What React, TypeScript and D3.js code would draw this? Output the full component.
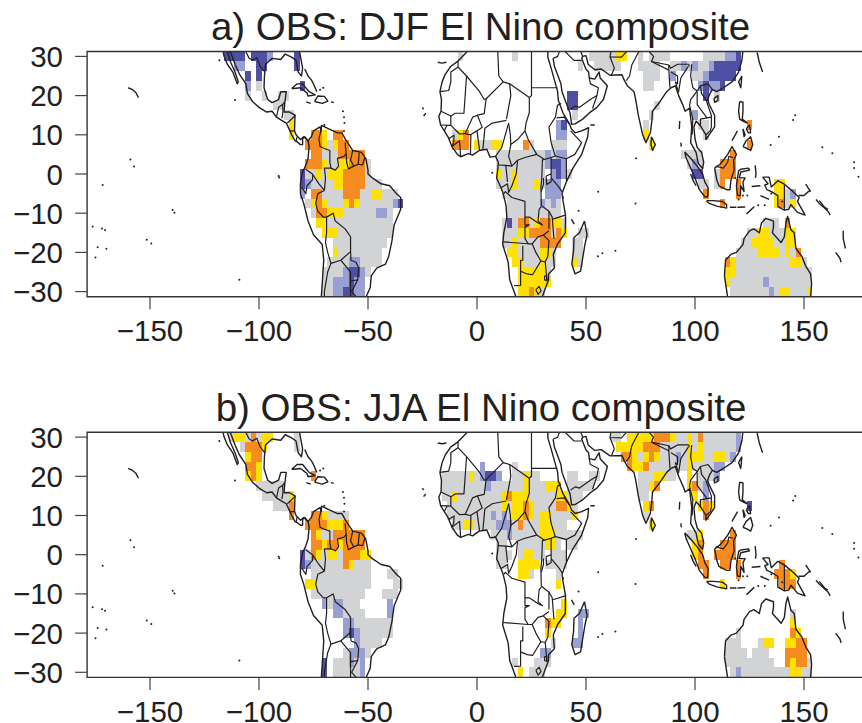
import React from "react";
import * as d3 from "d3";

type Runs = Record<string, string>;

const xTicks = [-150, -100, -50, 0, 50, 100, 150];
const yTicks = [30, 20, 10, 0, -10, -20, -30];
const titles = ["a) OBS: DJF El Nino composite", "b) OBS: JJA El Nino composite"];

const palette: Record<string, string> = { g: "#d1d3d4", y: "#ffe100", o: "#f68b1f", l: "#989fd2", d: "#4f4fa3" };

const djfAmericas: Runs = {
  "30": "-115 d4, -102.5 d3, -95 l1, -82.5 d1",
  "27.5": "-110 l2, -100 d2, -82.5 d1",
  "25": "-105 d1, -100 d1",
  "22.5": "-105 l1, -100 g1, -80 d1",
  "20": "-105 g1, -97.5 g1, -90 g2",
  "17.5": "-92.5 g2",
  "15": "-87.5 g2",
  "12.5": "-85 y1",
  "10": "-85 y1, -75 o2, -70 y1, -65 o2",
  "7.5": "-77.5 o3, -70 y1, -67.5 g1, -65 y1, -62.5 o2",
  "5": "-75 o2, -70 g3, -62.5 o5",
  "2.5": "-77.5 o3, -70 y1, -67.5 g2, -62.5 y2, -57.5 o3, -50 g1",
  "0": "-80 d1, -77.5 g2, -72.5 y1, -70 g1, -67.5 y3, -60 o4, -50 g1",
  "-2.5": "-80 d1, -77.5 l1, -75 g4, -65 y2, -60 o4, -50 g3",
  "-5": "-80 l1, -75 o2, -70 g4, -60 o3, -52.5 g2, -47.5 y2, -42.5 g3",
  "-7.5": "-77.5 g1, -75 y1, -72.5 o1, -70 y1, -67.5 g3, -60 y1, -57.5 o1, -55 y1, -52.5 g6, -37.5 l1, -35 d1",
  "-10": "-75 g1, -72.5 o2, -67.5 y3, -60 g6, -45 l2, -40 g1",
  "-12.5": "-72.5 y2, -67.5 g12",
  "-15": "-70 y3, -62.5 g10",
  "-17.5": "-65 g10",
  "-20": "-65 y1, -62.5 g8",
  "-22.5": "-67.5 g4, -57.5 l2, -52.5 g4",
  "-25": "-70 g4, -60 l1, -57.5 d2, -52.5 l1, -50 g1",
  "-27.5": "-70 g2, -65 l3, -57.5 d1, -55 l2",
  "-30": "-70 g2, -65 l2, -60 d2, -55 l2",
};

const djfAfrica: Runs = {
  "30": "-7.5 g1, 17.5 g1",
  "27.5": "47.5 g1",
  "20": "42.5 d2",
  "17.5": "42.5 d2",
  "15": "45 g1",
  "12.5": "37.5 l1, 40 d1",
  "10": "-10 g1, -7.5 y1, -5 o1, 37.5 l2",
  "7.5": "-10 o3, 0 y1, 2.5 g2, 7.5 y2, 22.5 o1, 25 g1, 35 g3",
  "5": "10 g9, 32.5 l1, 35 g1, 37.5 l2",
  "2.5": "10 g9, 32.5 l1, 35 d2, 40 l1",
  "0": "10 y1, 12.5 g2, 17.5 y1, 20 g5, 35 l1, 37.5 d1, 40 l1, 42.5 g1",
  "-2.5": "10 g3, 17.5 y1, 20 g3, 27.5 y1, 30 g1, 32.5 l3",
  "-5": "12.5 g7, 32.5 l3",
  "-7.5": "15 g6, 30 l1, 32.5 g1, 35 l1, 37.5 g1",
  "-10": "15 g10",
  "-12.5": "12.5 g1, 15 d1, 17.5 g1, 20 o2, 25 g1, 27.5 y1, 30 o2, 35 y2, 40 g1",
  "-15": "12.5 g3, 20 y2, 25 o4, 35 g1, 37.5 o1, 40 y1, 47.5 g2",
  "-17.5": "12.5 g2, 17.5 y1, 20 g4, 30 o4, 45 g2",
  "-20": "15 y2, 20 g4, 30 y2, 35 g1, 45 g2",
  "-22.5": "17.5 y2, 22.5 g3, 30 y1, 32.5 g2, 45 y1, 47.5 g1",
  "-25": "20 y5, 32.5 g1",
  "-27.5": "20 y6",
  "-30": "20 y2, 25 o1, 27.5 y1, 30 g1",
};

const djfAsia: Runs = {
  "30": "52.5 g5, 65 y2, 75 g1, 80 g4, 105 g4, 115 l2, 120 d1",
  "27.5": "55 g5, 75 g4, 90 g2, 95 l1, 97.5 g1, 100 l1, 102.5 g2, 107.5 l1, 110 d5",
  "25": "77.5 g3, 90 l1, 100 g2, 105 l1, 107.5 d5",
  "22.5": "77.5 g2, 102.5 l1, 105 d1, 107.5 l2, 112.5 d1",
  "20": "105 d1, 110 g1",
  "17.5": "82.5 g1",
  "15": "80 g1, 100 l1",
  "12.5": "77.5 g1, 102.5 g2, 125 o1",
  "10": "77.5 y1, 105 g1",
  "7.5": "80 y1, 125 o1",
  "5": "95 g4, 117.5 o1",
  "2.5": "97.5 g1, 100 l1, 102.5 g1, 112.5 o3",
  "0": "100 d2, 110 g1, 112.5 o3",
  "-2.5": "102.5 g2, 110 g1, 112.5 o1, 120 o1, 137.5 y2",
  "-5": "105 o1, 120 o1, 137.5 y2, 142.5 g1, 145 l1",
  "-7.5": "112.5 o1, 137.5 y1, 140 o1, 142.5 g1, 145 y1",
  "-12.5": "132.5 g3, 142.5 o1",
  "-15": "125 g2, 130 y2, 135 g3, 142.5 y2",
  "-17.5": "122.5 g2, 127.5 y4, 137.5 g2, 142.5 y2",
  "-20": "120 g4, 130 y4, 140 g1, 142.5 y1, 145 g1, 147.5 o1",
  "-22.5": "115 o1, 117.5 y1, 120 g10, 145 y2, 150 g1",
  "-25": "115 y2, 120 g14",
  "-27.5": "115 y1, 117.5 g6, 132.5 l1, 135 g8",
  "-30": "117.5 g7, 135 l1, 137.5 g1, 140 y2, 145 g3, 152.5 y1",
};

const jjaAmericas: Runs = {
  "30": "-112.5 g1, -110 y2, -105 g1, -102.5 o1, -100 g1, -97.5 y2, -82.5 g1",
  "27.5": "-107.5 g1, -105 o3, -97.5 y1, -82.5 g1",
  "25": "-105 y1, -102.5 o2",
  "22.5": "-105 o2, -100 y1",
  "20": "-105 y1, -102.5 o1, -100 y1, -75 o1",
  "17.5": "-100 g5",
  "15": "-97.5 g5, -85 y1",
  "12.5": "-92.5 g3, -85 o1",
  "10": "-85 o1, -75 o2, -70 y1, -67.5 g4",
  "7.5": "-77.5 o3, -70 o1, -67.5 y3, -60 o1",
  "5": "-75 o1, -72.5 y1, -70 g2, -65 o6",
  "2.5": "-75 o2, -70 y1, -67.5 o2, -62.5 y1, -60 o4",
  "0": "-80 d1, -77.5 g1, -75 o1, -72.5 y1, -70 g1, -67.5 y2, -62.5 g1, -60 o3, -52.5 y2",
  "-2.5": "-80 d1, -77.5 l1, -75 g6, -60 o1, -57.5 y1, -55 g3",
  "-5": "-75 g11, -40 g2",
  "-7.5": "-77.5 y2, -72.5 g10, -37.5 g2",
  "-10": "-75 g10, -42.5 g3",
  "-12.5": "-70 l1, -67.5 g1, -65 l2, -60 g3, -40 l1",
  "-15": "-65 l2, -60 g4, -40 l1",
  "-17.5": "-60 l2, -55 g7",
  "-20": "-60 l1, -57.5 d1, -55 l1, -52.5 g6",
  "-22.5": "-55 l1, -52.5 g4",
  "-25": "-60 g1, -57.5 l3, -50 g1",
  "-27.5": "-70 d1, -65 g3, -57.5 l1, -55 g1, -52.5 l1",
  "-30": "-70 d1, -65 g5, -52.5 l1",
};

const jjaAfrica: Runs = {
  "22.5": "2.5 l1, 17.5 g1",
  "20": "-15 g5, -2.5 y1, 0 g1, 2.5 l1, 5 d2, 10 l1, 17.5 g2, 22.5 y1, 25 g2, 42.5 g2, 52.5 g2",
  "17.5": "-15 g8, 5 l1, 7.5 g6, 22.5 y1, 25 g3, 32.5 y3, 42.5 g2, 47.5 g3",
  "15": "-15 g2, -10 y1, -7.5 g8, 12.5 y1, 15 o1, 17.5 y3, 25 g5, 37.5 y2, 42.5 g3",
  "12.5": "-12.5 g10, 12.5 y1, 15 g1, 17.5 y2, 22.5 o1, 25 y1, 27.5 g4, 37.5 o2, 42.5 y1, 45 g1",
  "10": "-12.5 g8, 7.5 l1, 10 g1, 12.5 l1, 15 g1, 17.5 y2, 22.5 o1, 25 y1, 27.5 g1, 30 y2, 35 g4, 45 y1",
  "7.5": "-10 g3, -5 y2, 0 g4, 10 l3, 17.5 g1, 20 o1, 22.5 g3, 30 y2, 35 g3",
  "5": "7.5 g3, 15 l1, 17.5 g5, 30 y3, 37.5 g2, 42.5 g3",
  "2.5": "10 g2, 20 g5, 32.5 y2, 37.5 g1, 42.5 g2",
  "0": "10 g3, 20 g1, 22.5 y2, 27.5 g2, 35 g3",
  "-2.5": "10 g2, 20 y4, 32.5 g4",
  "-5": "20 y2, 25 g1, 37.5 g1",
  "-7.5": "37.5 y1",
  "-12.5": "40 y1",
  "-15": "37.5 y2, 47.5 l2",
  "-17.5": "32.5 o1, 35 y2, 47.5 l1",
  "-20": "32.5 y1, 47.5 l1",
  "-22.5": "35 g1, 45 l2",
  "-25": "30 l2",
  "-27.5": "17.5 g1, 27.5 g3",
  "-30": "20 y1, 25 g3",
};

const jjaAsia: Runs = {
  "30": "62.5 g2, 70 y5, 82.5 o3, 90 y1, 92.5 g2, 97.5 y1, 100 g1, 102.5 o1, 105 g6, 120 l1",
  "27.5": "65 y5, 77.5 o3, 85 g5, 97.5 y1, 100 g1, 102.5 y1, 105 g6, 120 l1",
  "25": "67.5 o2, 72.5 y1, 75 g1, 77.5 y1, 80 o1, 82.5 y1, 85 g3, 92.5 l1, 95 g1, 97.5 y3, 105 g2, 110 y2, 115 g1, 117.5 l1",
  "22.5": "70 o1, 72.5 y2, 77.5 o1, 80 g7, 97.5 y1, 100 g4, 110 l2",
  "20": "75 g3, 82.5 y2, 87.5 g2, 97.5 y1, 102.5 g3, 110 l1",
  "17.5": "75 g2, 80 y1, 82.5 o1, 97.5 y1, 100 o1, 102.5 g1, 105 l1",
  "15": "75 g2, 100 y1, 105 l1",
  "12.5": "77.5 y1, 80 o1, 102.5 y1, 105 o1, 107.5 y1, 125 d1",
  "10": "77.5 g1, 105 o1",
  "7.5": "80 y1",
  "5": "97.5 g2, 102.5 y1, 117.5 o1",
  "2.5": "100 y1, 102.5 o1, 112.5 o3",
  "0": "100 y1, 102.5 o1, 110 o4",
  "-2.5": "102.5 o2, 112.5 o2, 120 o1, 140 o1",
  "-5": "105 o1, 120 o1, 137.5 o3, 145 y1",
  "-7.5": "112.5 y1, 140 o3",
  "-15": "145 g1",
  "-17.5": "145 y1",
  "-20": "120 g1, 145 o1, 147.5 y1",
  "-22.5": "115 g3, 130 g1, 132.5 y2, 142.5 y2, 147.5 o2",
  "-25": "115 g4, 127.5 g3, 142.5 o4",
  "-27.5": "115 g9, 142.5 o1, 145 y1, 147.5 o2, 152.5 g1",
  "-30": "117.5 g1, 120 l1, 122.5 g9, 145 y2, 150 g2",
};

type Line = [number, number][];

const coastAmericas: Line[] = [
  [[-117,32.5],[-116,30],[-114.5,28],[-112,26],[-110,23],[-109.5,23.5],[-111,26],[-113,28.5],[-114.7,31.5]],
  [[-114.7,31.5],[-113,31],[-111,28],[-109,25.5],[-106,23],[-105.3,20.5],[-103,18.5],[-100,17],[-96.5,15.8],[-94,16],[-92,14.5],[-90,13.8],[-87.5,13],[-85.8,11],[-85,10],[-83.5,8.5],[-82.5,8.2],[-81,7.5],[-80,7.5],[-80,9],[-79,9.5],[-77.5,8.5],[-79.5,9.5],[-81,8.8],[-83,10],[-83.7,11],[-83.5,15],[-86,15.8],[-88.5,15.8],[-88.2,18],[-87.5,21],[-90,21],[-91,19],[-94,18.2],[-96,19],[-97.7,22],[-97.5,25],[-97,28],[-94,29.5],[-90,29.2],[-88,30.6],[-85,29.8],[-83,29],[-82,26],[-80.5,25],[-80,27],[-81.5,31.5]],
  [[-77.5,8.5],[-77,7],[-77.5,4],[-78.7,2],[-80,0.5],[-81,-2.5],[-81,-5],[-79.5,-7.5],[-77.5,-12],[-75,-15.5],[-71,-18],[-70.3,-22],[-71,-28],[-71.5,-32]],
  [[-77.5,8.5],[-76,9.5],[-75,11],[-72,12],[-71.5,11],[-71.3,12.4],[-68,11.5],[-64,10.5],[-62,10.5],[-60,8.5],[-57,6],[-53,5.5],[-51,4],[-50,1],[-50,0],[-48,-1],[-44,-2.5],[-40,-3],[-37,-5],[-35,-6],[-35,-9],[-38,-13],[-39,-17],[-40.5,-21],[-42,-23],[-46,-24],[-48.5,-26],[-49,-29],[-51,-31.5]],
  [[-85,21.8],[-82.5,23],[-80,23],[-77,21],[-74.2,20.2],[-77.5,19.9],[-78,20.7],[-81,22],[-84,21.8],[-85,21.8]],
  [[-74.5,18.5],[-73,19.9],[-70,19.8],[-68.4,18.6],[-71,18],[-74.5,18.5]],
  [[-78.3,18.4],[-76.3,18]],
  [[-67,18.4],[-65.7,18.2]],
  [[-160,22],[-158,21.5],[-156.5,20.8],[-155.3,19.5]],
  [[-79,26.8],[-77.5,25],[-76,24],[-75,23],[-73.5,21]],
];

const borderAmericas: Line[] = [
  [[-106.5,31.7],[-104.5,29.5],[-103,29],[-101,29.7],[-99.5,27.5],[-97.2,25.9]],
  [[-92,14.5],[-91,17],[-89,17.8],[-88.3,18.4]],
  [[-89.2,17.8],[-89,15.9],[-89.5,14.2]],
  [[-83.2,15],[-87,13]],
  [[-83.7,11],[-85.7,11]],
  [[-82.6,9.5],[-83,8.2]],
  [[-71.3,11.8],[-72.5,9],[-72,7],[-70,6.5],[-67.5,6],[-67.5,3],[-67,1.5]],
  [[-67,1.5],[-65,1],[-63.5,2],[-64,4],[-61,4.5],[-60,5.2]],
  [[-60,5.2],[-60.5,8]],
  [[-60,5.2],[-59.8,3],[-59,1.3],[-56.5,2]],
  [[-57,6],[-58,3.5],[-56.5,2]],
  [[-54,5.5],[-54.5,2.5]],
  [[-56.5,2],[-54.5,2.5],[-52.5,2.3],[-51.5,4.2]],
  [[-67,1.5],[-70,1.5],[-69.5,-1],[-70,-4.2]],
  [[-70,-4.2],[-72.5,-2.5],[-75.5,0],[-78.7,1.3]],
  [[-75.3,-0.2],[-75.5,-1.5],[-78,-3],[-78.5,-5],[-80.3,-3.5]],
  [[-70,-4.2],[-73,-5],[-74,-7.5],[-73,-9.5],[-70.5,-11],[-69,-11],[-69,-15],[-69.5,-17.5],[-68.5,-20],[-67,-22.8]],
  [[-69,-11],[-66,-10],[-65,-12],[-60.5,-14],[-58,-16],[-58,-19.8],[-62.5,-22],[-67,-22.8],[-68.5,-25],[-70,-30],[-70,-32]],
  [[-62.5,-22],[-58,-25],[-58,-27.3],[-54.7,-27]],
  [[-58,-19.8],[-57.8,-22],[-55.5,-22.5],[-54.3,-24],[-54.7,-27],[-57.5,-30],[-53.5,-32.5]],
  [[-58,-27.3],[-58,-32]],
];

const coastAfricaAsia: Line[] = [
  [[-4,31.5],[-8.7,28.8],[-12,27.5],[-14.5,25.5],[-16,23.5],[-17,21],[-16.3,19],[-16.5,16],[-17.5,14.7],[-16.7,12.5],[-15,11],[-13.3,9.5],[-11.5,7],[-9,5],[-7.5,4.4],[-4,5.2],[-2,4.8],[1,6],[4.5,6.3],[6,4.3],[8.5,4.5],[9.8,3],[9.5,1],[9,-1],[11,-3.5],[12,-5],[13.3,-8],[13.7,-11],[12.3,-15],[11.8,-18],[14.3,-22.5],[15,-27],[17,-30],[18.3,-32]],
  [[29.5,-32],[32.8,-27],[32.8,-25.5],[35.5,-24],[35,-20.5],[37,-17.8],[40.5,-15],[40.6,-10.5],[39.5,-7],[39,-5],[41,-2],[44,1.5],[48,5],[50.8,9.5],[51.2,11.8],[48,11],[45,10.5],[43.3,11.5],[42.5,12.7],[39.5,15.5],[37.3,18.8],[37,21],[35.5,24],[34,27],[32.5,29.8],[32.5,31.5]],
  [[34.9,29.5],[35.5,27.5],[38.5,23],[39,21],[41,18],[42.7,15.5],[43.4,12.7],[45,12.8],[48.5,14],[52,15.8],[55,17],[58,19],[59.8,22.5],[56.5,24.5],[56,26],[54,24.2],[51.5,24.5],[51.2,26],[50,26.7],[48,29.5],[48.5,30],[50,30.2],[51,28],[54,26.6],[57,26.8],[61,25.2],[66.5,25.3],[67.5,24],[69,22.5],[72,21],[72.8,19],[74,15],[76,10],[77.5,8],[79.5,10.5],[80.2,13.5],[80.5,16],[84,18.5],[87,21],[89,22],[91,22.5],[92.5,20],[94.5,17.5],[95.5,16],[97.5,16.8],[98.5,12],[98,8],[100.5,5.5],[101.5,2.7],[103.5,1.4],[104,3],[103,5.5],[101,6.8],[100,9],[99.5,12],[100.5,13.5],[102.5,12.3],[105,10],[105,8.8],[106.5,10],[109,12],[109,15],[106.5,17.8],[105.8,19],[106.8,20.5],[108,21.5],[110,21],[113,22],[117,23.5],[120,26],[121.5,29],[122,31.5]],
  [[80,9.5],[81.8,7.5],[80.5,6],[79.8,7.5],[80,9.5]],
  [[49.3,-12],[50.5,-15.5],[49.5,-18],[47.5,-24.8],[45,-25.5],[43.5,-23],[44.3,-19.5],[44.5,-16.2],[47,-15],[49.3,-12]],
  [[95.3,5.6],[98,4],[101,2],[103.5,0],[104.5,-2],[106,-3.5],[105.8,-5.8],[104.5,-5.8],[102,-4],[100,-1],[98,1.5],[96,4],[95.3,5.6]],
  [[109,1.5],[111.5,2.5],[113,3.5],[115,5],[117,7],[119,5],[117.7,3.5],[118,1],[116.5,-1.5],[116,-4],[114.5,-4],[111,-3],[110,-1.5],[109,1.5]],
  [[105.3,-6.8],[108.5,-6.8],[112.5,-7],[114.5,-7.8],[114.5,-8.7],[110,-8.2],[106.5,-7.5],[105.3,-6.8]],
  [[119.5,-5.5],[119,-3],[120,0.8],[121,1.2],[124.5,1.5],[125,1],[121,0.5],[120.3,-1],[123,-1],[122,-2],[122.5,-4.5],[121,-3],[120.8,-5.5],[119.5,-5.5]],
  [[120.5,18.5],[122,18.3],[122,16],[121.7,14],[124,13],[122,13.5],[120.5,14],[120,16],[120.5,18.5]],
  [[122,7],[123.5,8.5],[125.5,9.5],[126.5,7.5],[125.5,6],[124,6.5],[122,7]],
  [[117,8.5],[119.5,11]],
  [[122,11.5],[123,10],[122.5,9.5],[122,11.5]],
  [[123.5,11.5],[125,12.5],[125.5,10.5],[124.5,10.5],[123.5,11.5]],
  [[131,-0.8],[134,-0.8],[135,-3.3],[138,-1.7],[141,-2.6],[145,-4.5],[147.8,-6],[147,-7],[150.5,-10.5],[147,-9.8],[144,-7.8],[143,-9],[141,-9.2],[138,-8.3],[138,-5.5],[135,-4.5],[133,-4],[132,-2.8],[133.5,-2.5],[131,-0.8]],
  [[113.5,-26],[114,-22],[116.5,-20.5],[119,-20],[122,-18],[122.5,-16.5],[125,-14.5],[127,-14],[129.5,-15],[130.5,-12.5],[132.5,-11.3],[136,-12],[136,-13.5],[135.5,-15],[139.5,-17.5],[141,-16],[141.7,-12.5],[142.5,-10.8],[144,-14.2],[145.5,-15],[146.3,-19],[149,-21],[150.8,-23.5],[153,-25.5],[153.5,-28],[153,-31.5]],
  [[113.5,-26],[115,-31.5]],
  [[123.6,-10.2],[127,-8.4],[125,-9.5],[123.6,-10.2]],
  [[116,-8.5],[119,-8.5]],
  [[119.5,-8.5],[123,-8.4]],
  [[121.5,25],[121,22],[120,23.5],[121.5,25]],
  [[108.7,19.3],[110.5,20],[110.5,18.7],[109,18.3],[108.7,19.3]],
  [[93,13.5],[92.8,11.5]],
  [[93.5,8],[93.7,7]],
  [[98,0],[99,-1.5],[100.5,-3]],
  [[127.6,2.2],[128,0],[127.7,-1]],
  [[126,-3.2],[130,-3]],
  [[130,-5.5],[134,-6.5]],
  [[128.5,31],[129.5,28.5],[131,26]],
  [[147.5,-5.5],[150,-5.5],[152,-4.5],[153,-4.2]],
  [[150.8,-2.6],[153,-4.5]],
  [[155.5,-6.5],[157,-7.5],[159,-8.5],[161,-9.5],[162,-10.5]],
  [[157,-6.8],[159.5,-8.5],[161,-9]],
  [[168,-14.5],[168,-16.5],[169,-19]],
  [[164.5,-20],[166.5,-21.5],[167,-22.5]],
  [[-25,17],[-24.5,16.5]],
  [[-23.5,15.5],[-24.5,14.8]],
  [[-18,28.5],[-16,28.3],[-14,28.5]],
  [[52,12.5],[54,12.5]],
  [[43.3,-11.5],[44.6,-12.8]],
];

const borderAfricaAsia: Line[] = [
  [[-8.7,28.8],[-8.7,27.3],[-12,26],[-12,23.5],[-13,21.3],[-17,21]],
  [[-8.7,27.3],[-4.8,25],[-6,15.5],[-10,15.5],[-12,14.8],[-16.5,16]],
  [[-4.8,25],[1.2,21],[3.3,19],[4.2,19.2],[12,23.5],[15,23],[24,19.5],[25,20],[25,31.5]],
  [[9.5,31.5],[10,25],[12,23.5]],
  [[25,22],[36.9,22]],
  [[15,23],[15.5,20],[13.5,14]],
  [[24,19.5],[24,15.7],[22.5,13],[22,11],[23.5,8.8],[27.4,5],[31,3.7],[34,4.2],[35.9,4.6],[34,8],[33,12],[36,14.5],[36.9,17.5],[38.6,18]],
  [[3.6,11.7],[7,13],[13.5,13.7]],
  [[4.2,19.2],[3.3,15.4],[0.2,15],[2.4,11.9],[0,11],[-3,10],[-5.4,10.3],[-2,14.5],[0.2,15]],
  [[-12,14.8],[-12,12.4],[-8,10.2],[-5.4,10.3]],
  [[-16.7,12.5],[-12,12.4]],
  [[-15,11],[-13.7,12.5]],
  [[2.7,6.3],[3.6,11.7]],
  [[1.2,6],[0,11]],
  [[-3,5.1],[-2.8,10]],
  [[-11.5,7],[-8,8.5],[-7.5,4.4]],
  [[-13,9],[-10.5,9.9],[-10.7,8],[-11.5,7]],
  [[8.5,4.5],[11.3,6.7],[13.5,11],[14.5,13]],
  [[14.5,13],[15.3,10],[15.5,7.5],[19,9],[22,11]],
  [[15.5,7.5],[14.5,4.5],[16,2],[18.6,3.5],[22,4.2],[27.4,5]],
  [[36.5,14.3],[40,14.5],[42.5,12.6]],
  [[42.9,11],[48,8],[44.9,5],[41,3.9],[35.9,4.6]],
  [[41,3.9],[41,-1.7]],
  [[34,4.2],[34,0]],
  [[34,-1],[37.5,-3.3],[39.2,-4.7]],
  [[31,3.7],[30,3.6],[29.7,-1.4],[29.3,-3.5],[29.5,-8],[31,-8.7],[33,-9.5],[34.5,-11],[35,-14.5],[35.3,-16.5]],
  [[33,-9.5],[33,-14]],
  [[30.5,-1],[30.5,-2.5],[29.5,-4.5]],
  [[29.5,-8.3],[28.5,-9],[28,-12],[30,-13],[28,-12.5],[24,-11],[22,-11],[22,-13],[24,-13],[22,-13.5],[22,-16.5],[23.5,-17.8],[14,-17.4],[11.8,-17.3]],
  [[21,-18.3],[21,-22],[20,-22],[20,-28.4],[17,-28.5]],
  [[20,-24.8],[23,-25.5],[25.5,-25.7],[29.3,-22.2],[27,-20],[25.3,-17.8],[23.5,-17.8]],
  [[25.3,-17.8],[28,-16],[30.4,-15.6],[33,-14.5]],
  [[34.8,-11.5],[40.5,-10.5]],
  [[30.4,-15.6],[33,-17],[32.5,-21],[31.3,-22.4],[32,-26.8],[32.8,-27]],
  [[29.3,-22.2],[31.3,-22.4]],
  [[12.3,-5],[13,-4.5],[16,-6],[22,-7],[22,-11]],
  [[11,-3.5],[14,-2.5],[14.5,-4.7],[16,-3],[18,0],[18.6,3.5]],
  [[9.8,2.3],[13.2,2.2],[14,-2]],
  [[13.2,2.2],[16,2]],
  [[27,-29.5],[28.5,-28.7],[29.4,-29.8],[28,-30.7],[27,-29.5]],
  [[31,-26],[32,-26],[32,-27.2],[31,-27],[31,-26]],
  [[31.7,-0.5],[34,0],[34,-2],[32,-2.7],[31.7,-0.5]],
  [[35,29.5],[37,30],[38,31.5]],
  [[39,32],[44.5,29],[48,29]],
  [[48.5,30],[47,32]],
  [[43,16.5],[45,17.3],[47,17],[52,19],[55,20],[53,16.7]],
  [[55,20],[55.7,22],[52,23],[51.5,24.5]],
  [[61.5,31.5],[61,29.9],[66.3,29.8],[69,31.5]],
  [[61,29.9],[63,27],[61.6,25.2]],
  [[74.5,31.5],[74,31],[71,27.8],[70,25],[68.5,23.8]],
  [[78.5,31.5],[81,30],[80,28.7],[88,27.8],[88.8,27],[92,28],[97,28],[97.5,27.5]],
  [[80,28.7],[88,26.5],[88,27.8]],
  [[88,26.5],[88.5,22]],
  [[89,26],[92,25],[92,23],[91,23.5],[92.5,20.8]],
  [[92.5,21],[93.5,24.5],[97,27.5]],
  [[98.5,28],[98,25],[99,22],[101,21.2],[98,19],[97.5,17.5],[99,14],[98.7,10]],
  [[101,21.2],[102.5,22.5],[106,23],[108,21.5]],
  [[102.5,22.5],[103,20.5],[105,19],[107.5,15],[107.5,12],[107,11],[105,10]],
  [[101,21],[101,17.7],[105.5,14.3],[107.5,14.5]],
  [[102.5,12],[102.5,14],[105.5,14.3]],
  [[109.5,2],[113,1.5],[115,3],[115.5,4.5],[117.5,4.2]],
  [[141,-2.6],[141,-9.2]],
];

const islandDots: [number, number][] = [
  [-159,3.7],[-157.3,1.9],[-171.7,-2.8],[-139.6,-9.2],[-138.8,-9.9],[-176.3,-13.4],[-172,-13.9],[-170.6,-14.3],
  [-151.5,-16.8],[-149.4,-17.7],[-174,-18.7],[-170,-19.1],[-175,-21.3],[-109,-27],[-118.2,29],[-111,18.9],
  [-91,-0.5],[-90.7,-0.9],[-70,12.5],[-61.5,16],[-61,14.5],[-60.8,13],[-61,11],[-72,21.5],[-70.5,22],
  [7,0.3],[55.6,-4.5],[72.7,-7.5],[46.6,-9.4],[55.5,-21],[57.5,-20.2],[63.5,-19.6],[39.5,-6],[73,4],
  [145,13.8],[146,15],[138.5,9.5],[134.7,7.4],[158.4,6.8],[163,5.3],[173,3],[173,1.5],[175,-0.7],
  [132,-8],[135,-5],[118.5,-1],[120,-6.5],[124,-5.5],[129,-8],[122,-5.5],[140,-7],
];

const parseRuns = (runs: Runs): { lat: number; lon: number; code: string }[] =>
  Object.entries(runs).flatMap(([lat, text]) =>
    text.split(",").flatMap((seg) => {
      const [start, rest] = seg.trim().split(" ");
      const n = +rest.slice(1);
      return d3.range(n).map((k) => ({ lat: +lat, lon: +start + 2.5 * k, code: rest[0] }));
    })
  );

const panels = [
  { title: titles[0], zero: 174, titleX: 480.5, cells: [djfAmericas, djfAfrica, djfAsia] },
  { title: titles[1], zero: 554.7, titleX: 481, cells: [jjaAmericas, jjaAfrica, jjaAsia] },
];

const ink = "#231f20";
const font = "'Liberation Sans', Arial, sans-serif";

function Panel({ p, i }: { p: (typeof panels)[number]; i: number }) {
  const x = d3.scaleLinear().domain([-180, 180]).range([84.6, 869.4]);
  const y = d3.scaleLinear().domain([-30, 30]).range([p.zero + 117.6, p.zero - 117.6]);
  const left = x(-178.85);
  const top = y(31.25);
  const bottom = y(-31.3);
  const right = x(180);
  const line = d3.line<[number, number]>().x((d) => x(d[0])).y((d) => y(d[1]));
  const cells = p.cells.flatMap(parseRuns);
  const clip = `panel-clip-${i}`;
  return (
    <g>
      <defs>
        <clipPath id={clip}>
          <rect x={left} y={top} width={right - left} height={bottom - top} />
        </clipPath>
      </defs>
      <g clipPath={`url(#${clip})`}>
        <g shapeRendering="crispEdges">
          {cells.map((c, k) => (
            <rect
              key={k}
              x={x(c.lon - 1.25)}
              y={y(c.lat + 1.25)}
              width={x(c.lon + 1.25) - x(c.lon - 1.25)}
              height={y(c.lat - 1.25) - y(c.lat + 1.25)}
              fill={palette[c.code]}
            />
          ))}
        </g>
        {[...coastAmericas, ...coastAfricaAsia].map((l, k) => (
          <path key={k} d={line(l) ?? ""} fill="none" stroke={ink} strokeWidth={1.4} strokeLinejoin="round" />
        ))}
        {[...borderAmericas, ...borderAfricaAsia].map((l, k) => (
          <path key={k} d={line(l) ?? ""} fill="none" stroke={ink} strokeWidth={1.2} strokeLinejoin="round" />
        ))}
        {islandDots.map((d, k) => (
          <circle key={k} cx={x(d[0])} cy={y(d[1])} r={1} fill={ink} />
        ))}
      </g>
      <path d={`M${right},${top}H${left}V${bottom}H${right}`} fill="none" stroke="#333" strokeWidth={1.4} />
      {xTicks.map((t) => (
        <g key={t}>
          <line x1={x(t)} x2={x(t)} y1={bottom} y2={bottom + 12.5} stroke="#444" strokeWidth={1.2} />
          <text x={x(t)} y={bottom + 44.5} textAnchor="middle" fontSize={29.5} fontFamily={font} fill={ink}>
            {String(t).replace("-", "\u2212")}
          </text>
        </g>
      ))}
      {yTicks.map((t) => (
        <g key={t}>
          <line x1={left - 12} x2={left} y1={y(t)} y2={y(t)} stroke="#444" strokeWidth={1.2} />
          <text x={63} y={y(t) + 10.5} textAnchor="end" fontSize={29.5} fontFamily={font} fill={ink}>
            {String(t).replace("-", "\u2212")}
          </text>
        </g>
      ))}
      <text x={p.titleX} y={top - 11.5} textAnchor="middle" fontSize={38.5} fontFamily={font} fill={ink}>
        {p.title}
      </text>
    </g>
  );
}

export default function App() {
  return (
    <svg width={862} height={723} style={{ position: "absolute", left: 0, top: 0, background: "#fff" }}>
      {panels.map((p, i) => (
        <Panel key={i} p={p} i={i} />
      ))}
    </svg>
  );
}
